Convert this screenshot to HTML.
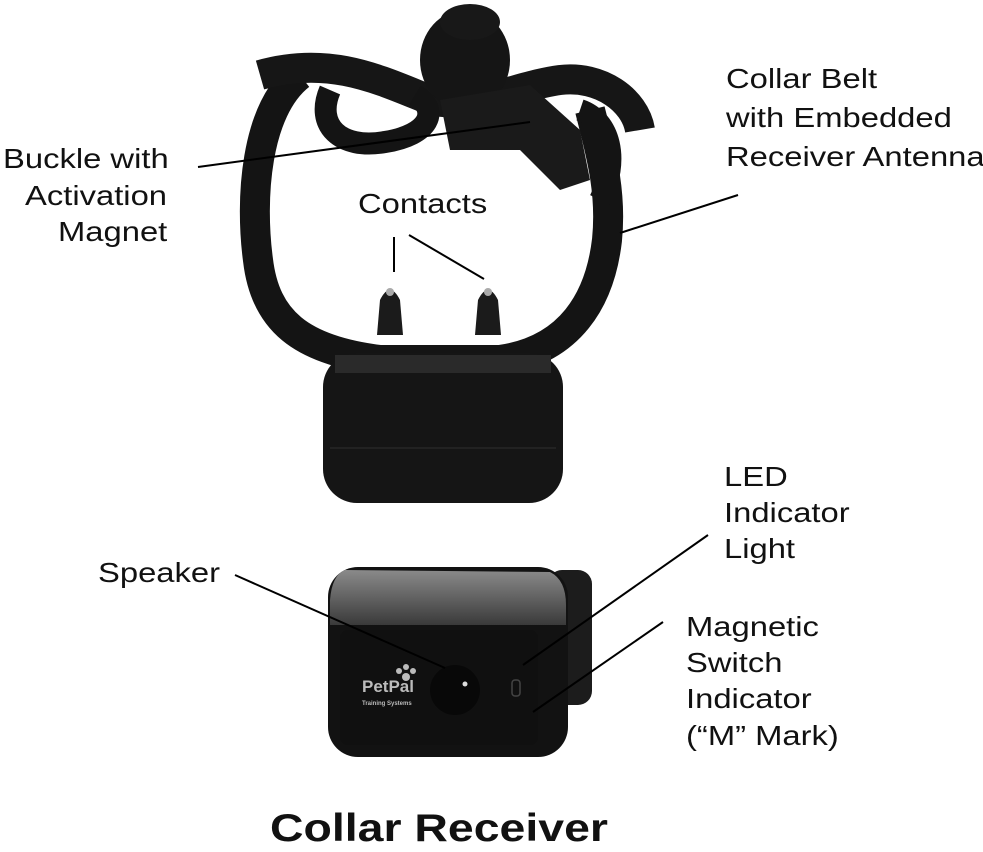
<!DOCTYPE html>
<html><head><meta charset="utf-8"><style>
html,body{margin:0;padding:0;background:#fff;}
body{width:983px;height:849px;position:relative;overflow:hidden;font-family:"Liberation Sans",Arial,sans-serif;}
.t{position:absolute;font-size:28px;line-height:36px;color:#111;white-space:nowrap;transform:scaleX(1.17);transform-origin:0 0;}
</style></head><body>
<svg width="983" height="849" style="position:absolute;left:0;top:0">
<defs>
<linearGradient id="g1" x1="0" y1="0" x2="0" y2="1"><stop offset="0" stop-color="#8a8a8a"/><stop offset="1" stop-color="#3a3a3a"/></linearGradient>
</defs>
<path d="M300,75 C255,110 250,200 258,260 C265,320 300,350 380,360 L500,360 C570,350 600,300 607,240 C612,190 600,150 590,110" fill="none" stroke="#141414" stroke-width="30"/>
<path d="M260,75 C330,55 380,80 430,100 C470,110 520,85 560,80 C600,75 635,100 640,130" fill="none" stroke="#161616" stroke-width="30"/>
<path d="M330,90 C315,125 340,150 385,142 C430,135 440,110 415,95" fill="none" stroke="#141414" stroke-width="22"/>
<ellipse cx="465" cy="60" rx="45" ry="50" fill="#151515"/>
<ellipse cx="470" cy="22" rx="30" ry="18" fill="#181818"/>
<path d="M440,100 L530,85 L580,130 L590,180 L560,190 L520,150 L450,150 Z" fill="#1a1a1a"/>
<path d="M580,110 C610,120 620,160 600,200" fill="none" stroke="#141414" stroke-width="22"/>
<path d="M377,335 L380,300 Q390,280 400,300 L403,335 Z" fill="#1b1b1b"/>
<path d="M475,335 L478,300 Q488,280 498,300 L501,335 Z" fill="#1b1b1b"/>
<circle cx="390" cy="292" r="4" fill="#aaa"/><circle cx="488" cy="292" r="4" fill="#aaa"/>
<rect x="323" y="353" width="240" height="150" rx="34" fill="#151515"/>
<rect x="335" y="355" width="216" height="18" fill="#2a2a2a"/>
<line x1="330" y1="448" x2="556" y2="448" stroke="#222" stroke-width="2"/>
<rect x="548" y="570" width="44" height="135" rx="14" fill="#1c1c1c"/>
<rect x="328" y="567" width="240" height="190" rx="30" fill="#121212"/>
<path d="M345,570 L550,572 Q566,580 566,605 L566,625 L330,625 L330,600 Q332,575 345,570 Z" fill="url(#g1)"/>
<rect x="340" y="630" width="198" height="115" rx="8" fill="#101010"/>
<circle cx="455" cy="690" r="25" fill="#080808"/>
<circle cx="465" cy="684" r="2.5" fill="#ddd"/>
<rect x="512" y="680" width="8" height="16" rx="3" fill="none" stroke="#444" stroke-width="1.5"/>
<text x="362" y="692" font-family="Liberation Sans, sans-serif" font-size="17" font-weight="bold" fill="#bbb">PetPal</text>
<text x="362" y="705" font-family="Liberation Sans, sans-serif" font-size="6" font-weight="bold" fill="#bbb">Training Systems</text>
<circle cx="399" cy="671" r="3" fill="#bbb"/><circle cx="406" cy="667" r="3" fill="#bbb"/><circle cx="413" cy="671" r="3" fill="#bbb"/><circle cx="406" cy="677" r="4" fill="#bbb"/>
<g stroke="#000" stroke-width="2" fill="none">
<line x1="198" y1="167" x2="530" y2="122"/>
<line x1="394" y1="237" x2="394" y2="272"/>
<line x1="409" y1="235" x2="484" y2="279"/>
<line x1="620" y1="233" x2="738" y2="195"/>
<line x1="235" y1="575" x2="445" y2="668"/>
<line x1="708" y1="535" x2="523" y2="665"/>
<line x1="663" y1="622" x2="533" y2="712"/>
</g>
</svg>
<div class="t" style="left:3px;top:141px">Buckle with</div>
<div class="t" style="left:25px;top:178px">Activation</div>
<div class="t" style="left:58px;top:214px">Magnet</div>
<div class="t" style="left:358px;top:186px">Contacts</div>
<div class="t" style="left:726px;top:61px">Collar Belt</div>
<div class="t" style="left:726px;top:100px">with Embedded</div>
<div class="t" style="left:726px;top:139px">Receiver Antenna</div>
<div class="t" style="left:724px;top:459px">LED</div>
<div class="t" style="left:724px;top:495px">Indicator</div>
<div class="t" style="left:724px;top:531px">Light</div>
<div class="t" style="left:98px;top:555px">Speaker</div>
<div class="t" style="left:686px;top:609px">Magnetic</div>
<div class="t" style="left:686px;top:645px">Switch</div>
<div class="t" style="left:686px;top:681px">Indicator</div>
<div class="t" style="left:686px;top:718px">(“M” Mark)</div>
<div class="t" style="left:270px;top:806px;font-size:39px;line-height:46px;font-weight:bold;transform:scaleX(1.19);">Collar Receiver</div>
</body></html>
